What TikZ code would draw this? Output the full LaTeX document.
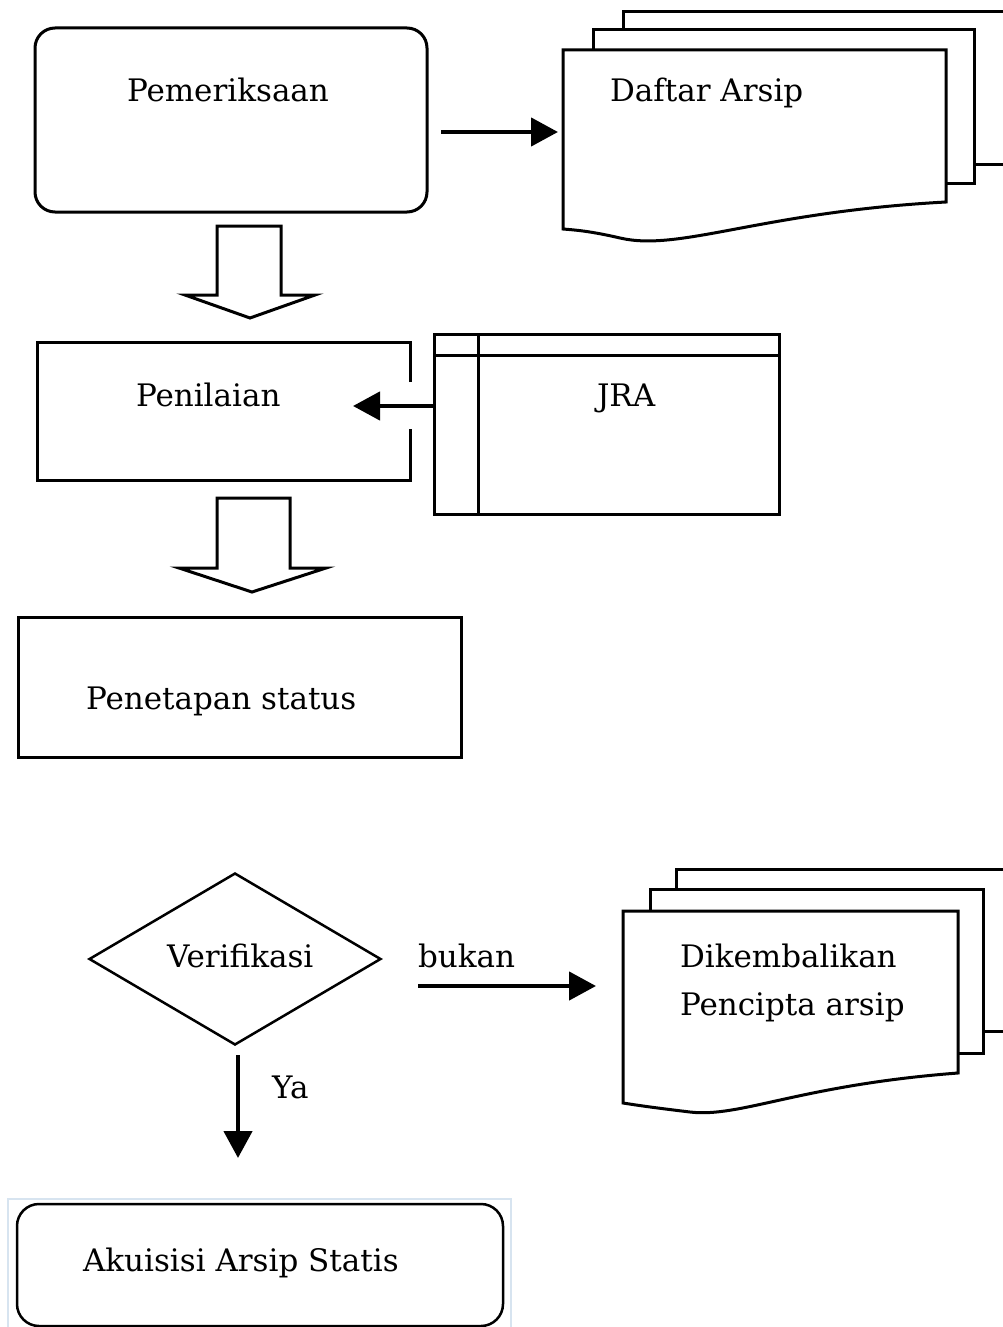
\documentclass[tikz,border=0pt]{standalone}
\usepackage{fontspec}
\setmainfont{DejaVu Serif}
\usetikzlibrary{shapes.geometric,arrows.meta}
\definecolor{framecol}{RGB}{215,228,240}
\tikzset{
  box/.style={draw, line width=3pt, inner sep=0pt, outer sep=0pt},
  lbl/.style={anchor=base west, inner sep=0pt, outer sep=0pt, font=\fontsize{31}{37}\selectfont},
  flow/.style={line width=4.5pt, -{Triangle[length=27pt,width=28pt]}},
  blockarrow/.style={draw, line width=3pt, fill=white, line join=miter},
  doc/.style={draw, line width=3pt, fill=white, line join=miter},
}
\begin{document}
\begin{tikzpicture}[x=1pt,y=-1pt]
\useasboundingbox (0,0) rectangle (1003,1327);
\clip (0,0) rectangle (1003,1327);

% Pemeriksaan
\node[box, rounded corners=20pt, minimum width=392pt, minimum height=184pt] (pem) at (231,120) {};
\node[lbl] (tpem) at (127,102) {Pemeriksaan};

% Daftar Arsip stack
\draw[doc] (623,164) -- (623,12) -- (1020,12) -- (1020,164) -- cycle;
\draw[doc] (593,183) -- (593,30) -- (974,30) -- (974,183) -- cycle;
\draw[doc] (563,229) -- (563,50) -- (946,50) -- (946,202)
   .. controls (760,212) and (680,252) .. (620,238) .. controls (590,231) and (575,230) .. (563,229) -- cycle;
\node[lbl] (tdaf) at (610,102) {Daftar Arsip};
\coordinate (a1s) at (441,132);
\coordinate (a1e) at (558,132);
\draw[flow] (a1s) -- (a1e);

% block arrow 1
\draw[blockarrow] (217,226) -- (281,226) -- (281,295) -- (315,295) -- (250,318) -- (185,295) -- (217,295) -- cycle;

% Penilaian
\node[inner sep=0pt, outer sep=0pt, minimum width=373pt, minimum height=138pt] (pen) at (223.5,411) {};
\draw[line width=3pt] (410,382) -- (pen.north east) -- (pen.north west) -- (pen.south west) -- (pen.south east) -- (410,429);
\node[lbl] (tpen) at (136,406) {Penilaian};

% JRA
\node[box, minimum width=345pt, minimum height=180pt] (jra) at (606.5,424) {};
\draw[line width=3pt] (434,355) -- (779,355);
\draw[line width=3pt] (478,334) -- (478,514);
\node[lbl] (tjra) at (597,406) {JRA};
\coordinate (jraA) at (434,406);
\coordinate (penA) at (353,406);
\draw[flow] (jraA) -- (penA);

% block arrow 2
\draw[blockarrow] (217,498) -- (290,498) -- (290,568) -- (326,568) -- (252,592) -- (179,568) -- (217,568) -- cycle;

% Penetapan status
\node[box, minimum width=443pt, minimum height=140pt] (pst) at (239.5,687) {};
\node[lbl] (tpst) at (86,709) {Penetapan status};

% Verifikasi
\node[draw, line width=2.5pt, diamond, aspect=1.698, minimum width=292pt, minimum height=172pt, inner sep=0pt] (ver) at (235,959) {};
\node[lbl] (tver) at (167,967) {Verifikasi};
\node[lbl] (tbuk) at (418,967) {bukan};
\coordinate (bs) at (418,986);
\coordinate (be) at (596,986);
\draw[flow] (bs) -- (be);

% Dikembalikan stack
\draw[doc] (676,1031) -- (676,869) -- (1020,869) -- (1020,1031) -- cycle;
\draw[doc] (650,1053) -- (650,889) -- (983,889) -- (983,1053) -- cycle;
\draw[doc] (623,1103) -- (623,911) -- (958,911) -- (958,1073)
   .. controls (800,1085) and (740,1118) .. (690,1112) .. controls (640,1106) and (630,1104) .. (623,1103) -- cycle;
\node[lbl] (tdik) at (680,967) {Dikembalikan};
\node[lbl] (tpc) at (680,1015) {Pencipta arsip};

% Ya
\coordinate (ys) at (238,1055);
\coordinate (ye) at (238,1158);
\draw[flow] (ys) -- (ye);
\node[lbl] (tya) at (272,1098) {Ya};

% Akuisisi
\draw[framecol, line width=1.5pt] (8,1330) -- (8,1199) -- (511,1199) -- (511,1330);
\node[box, line width=2.5pt, rounded corners=22pt, minimum width=486pt, minimum height=122pt] (aku) at (260,1265) {};
\node[lbl] (taku) at (83,1271) {Akuisisi Arsip Statis};
\end{tikzpicture}
\end{document}
